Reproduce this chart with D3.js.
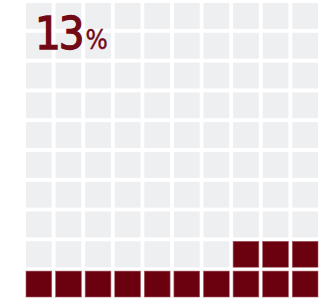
<!DOCTYPE html>
<html>
<head>
<meta charset="utf-8">
<script src="https://cdn.jsdelivr.net/npm/d3@7"></script>
<style>
  html, body { margin: 0; padding: 0; background: #fff; }
  svg { display: block; }
</style>
</head>
<body>
<div id="chart"></div>
<script>
// waffle: 13 out of 100
const share = 13;
const total = 100;
const columns = d3.range(10);
const rows = d3.range(10);
const labelNumber = '13';
const labelUnit = '%';

const width = 326, height = 299;
const svg = d3.select('#chart').append('svg')
    .attr('width', width)
    .attr('height', height);

const x = d3.scaleBand().domain(columns).range([26, 318]).paddingInner(0.13);
const y = d3.scaleBand().domain(rows).range([3, 297]).paddingInner(0.13);

// fill from bottom right corner, right to left, then upward
const cells = d3.range(total).map(i => ({
    col: 9 - (i % 10),
    row: 9 - Math.floor(i / 10),
    on: i < share
}));

svg.append('g')
    .selectAll('rect')
    .data(cells)
    .join('rect')
    .attr('x', d => x(d.col))
    .attr('y', d => y(d.row))
    .attr('width', x.bandwidth())
    .attr('height', y.bandwidth())
    .attr('fill', d => d.on ? '#6b000f' : '#eeeff1')
    .attr('stroke', d => d.on ? '#a55a62' : 'none')
    .attr('stroke-width', 0.6);

const label = svg.append('text')
    .attr('x', 35)
    .attr('y', 49)
    .attr('fill', '#720a15')
    .attr('stroke', '#720a15')
    .style('font-family', '"DejaVu Sans Condensed", sans-serif');
label.append('tspan')
    .attr('stroke-width', 1.3)
    .style('font-size', '45px')
    .style('letter-spacing', '-2px')
    .text(labelNumber);
label.append('tspan')
    .attr('dx', 3)
    .attr('stroke-width', 0.4)
    .style('font-size', '26px')
    .text(labelUnit);
</script>
</body>
</html>
